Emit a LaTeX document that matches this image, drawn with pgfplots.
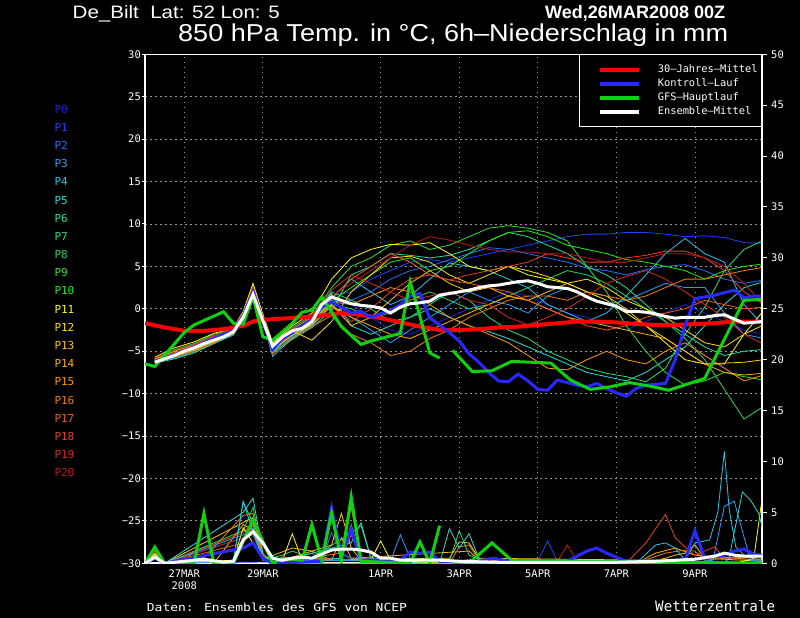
\documentclass[border=0pt]{standalone}
\usepackage{fontspec}
\setmainfont{Liberation Sans}
\newfontfamily\monof{DejaVu Sans Mono}
\usepackage{pgfplots}
\usepackage{pgfplotstable}
\pgfplotsset{compat=1.18}
\usepackage{graphicx}

\definecolor{p0}{RGB}{32,32,216}
\definecolor{p1}{RGB}{32,64,255}
\definecolor{p2}{RGB}{32,112,255}
\definecolor{p3}{RGB}{32,160,255}
\definecolor{p4}{RGB}{32,200,240}
\definecolor{p5}{RGB}{32,224,216}
\definecolor{p6}{RGB}{32,224,160}
\definecolor{p7}{RGB}{32,224,120}
\definecolor{p8}{RGB}{32,216,96}
\definecolor{p9}{RGB}{48,224,48}
\definecolor{p10}{RGB}{32,240,0}
\definecolor{p11}{RGB}{255,255,0}
\definecolor{p12}{RGB}{255,224,0}
\definecolor{p13}{RGB}{255,200,0}
\definecolor{p14}{RGB}{255,176,0}
\definecolor{p15}{RGB}{255,152,0}
\definecolor{p16}{RGB}{240,128,0}
\definecolor{p17}{RGB}{240,96,16}
\definecolor{p18}{RGB}{232,64,32}
\definecolor{p19}{RGB}{216,40,32}
\definecolor{p20}{RGB}{192,24,24}
\definecolor{ctrl}{RGB}{40,40,255}
\definecolor{gfs}{RGB}{16,208,16}
\definecolor{clim}{RGB}{255,0,0}
\definecolor{gridc}{RGB}{150,150,150}

% ensemble members, 850 hPa temperature (hours since 26MAR2008 00Z)
\pgfplotstableread{
h p0 p1 p2 p3 p4 p5 p6 p7 p8 p9 p10 p11 p12 p13 p14 p15 p16 p17 p18 p19 p20
6 -6.2 -5.8 -6.0 -6.3 -6.1 -5.9 -6.4 -6.0 -6.2 -6.1 -6.3 -5.7 -6.0 -6.2 -6.0 -5.9 -6.1 -6.0 -6.2 -5.8 -6.1
18 -5.6 -4.9 -5.3 -5.8 -5.5 -5.0 -5.9 -5.3 -5.5 -4.8 -5.4 -4.6 -5.2 -5.6 -5.3 -5.0 -5.7 -5.2 -5.4 -4.9 -5.3
30 -4.9 -4.2 -4.6 -5.1 -4.7 -4.2 -5.2 -4.5 -4.8 -4.1 -4.6 -3.9 -4.5 -4.9 -4.6 -4.3 -5.0 -4.4 -4.7 -4.2 -4.6
42 -3.8 -3.2 -3.5 -4.1 -3.8 -3.2 -4.1 -3.5 -3.8 -3.0 -3.6 -2.9 -3.5 -3.9 -3.6 -3.3 -4.0 -3.3 -3.7 -3.2 -3.6
54 -2.9 -2.6 -2.8 -3.1 -3.0 -2.5 -3.0 -2.7 -2.8 -2.4 -2.7 -2.3 -2.6 -2.9 -2.7 -2.5 -2.9 -2.6 -2.8 -2.4 -2.7
60 -1.0 -0.6 -0.9 -1.2 -1.1 -0.4 -1.3 -0.7 -1.0 -0.5 -0.8 -0.3 -0.7 -0.9 -0.8 -0.6 -1.1 -0.7 -0.9 -0.5 -0.8
66 1.8 2.2 2.0 1.5 1.6 2.6 1.4 2.4 1.9 2.8 2.1 3.0 2.3 1.7 2.0 2.5 1.3 2.2 1.8 2.6 2.0
72 -1.4 -1.0 -1.3 -1.8 -1.6 -1.2 -1.7 -0.9 -1.4 -0.8 -1.1 -0.6 -1.0 -1.5 -1.2 -1.0 -1.6 -1.1 -1.3 -0.9 -1.2
78 -4.8 -4.4 -4.7 -5.0 -5.6 -5.2 -5.1 -4.3 -4.9 -4.2 -4.5 -4.0 -4.4 -4.8 -4.6 -4.5 -5.3 -4.5 -4.7 -4.3 -4.6
90 -3.0 -2.8 -3.2 -3.3 -3.5 -2.6 -3.6 -2.4 -3.1 -2.2 -2.7 -2.0 -2.6 -3.1 -2.9 -2.7 -3.4 -2.5 -2.9 -2.3 -2.6
102 -1.5 -1.2 -1.8 -2.0 -1.7 -1.0 -2.2 -1.0 -1.4 -0.8 -1.3 -0.5 -3.7 -1.9 -1.6 -1.5 -2.1 -1.2 -1.6 -0.9 -1.1
114 1.0 1.5 0.8 0.3 1.2 1.8 -0.2 2.0 0.6 2.5 0.9 3.5 -1.5 0.5 0.4 0.8 -0.8 1.3 0.2 2.2 1.5
126 0.5 2.0 1.0 -1.0 3.5 -2.0 4.0 1.0 0.0 5.0 2.5 6.0 2.0 -2.0 -1.0 0.5 -3.0 3.5 -1.5 4.0 3.0
138 -1.0 3.5 2.0 -2.5 2.0 -3.0 5.0 0.0 -1.0 6.0 4.0 7.0 4.0 -1.0 -2.0 1.5 -4.0 5.0 0.0 3.0 4.5
150 -2.5 4.5 3.5 -4.0 0.5 -2.0 6.5 -1.5 -0.5 7.5 5.5 7.6 6.0 1.0 -3.0 2.5 -5.5 6.5 2.0 2.0 6.0
162 -3.0 5.5 4.5 -2.5 1.5 -1.0 6.3 -1.0 1.0 8.0 6.0 7.5 6.2 3.0 -3.5 2.0 -5.0 5.5 3.5 1.0 7.5
174 -2.0 5.8 5.0 -1.0 3.5 0.0 6.0 0.5 2.0 7.0 4.5 7.8 5.5 4.5 -2.5 0.5 -3.5 4.0 4.0 1.5 8.5
186 -1.0 5.5 5.8 0.5 5.4 -1.0 6.3 2.0 1.0 7.5 5.0 6.5 4.0 3.0 -1.5 -1.0 -2.5 3.4 3.4 2.0 8.1
198 0.0 6.0 6.5 2.0 5.0 -2.0 7.0 1.0 0.0 8.5 6.5 5.0 3.0 2.0 -0.5 -2.0 -1.0 3.0 4.0 1.0 7.5
210 1.0 6.5 7.2 1.0 4.5 -2.7 8.0 -1.0 0.5 9.5 8.0 4.5 4.0 2.5 0.5 -3.0 0.0 2.5 4.5 0.5 7.0
222 2.0 7.0 7.0 0.5 3.5 -3.5 9.0 -2.5 1.5 9.8 9.0 5.0 5.0 1.5 1.5 -4.0 1.0 2.0 5.0 -1.0 6.7
234 1.5 7.5 6.5 -0.5 2.5 -4.5 8.5 -3.5 2.5 9.5 9.2 4.0 4.5 1.0 1.0 -5.5 1.5 1.0 5.5 -1.9 6.7
246 0.5 8.0 6.0 1.5 0.5 -5.5 7.5 -5.0 3.5 9.0 8.5 3.5 3.8 2.0 0.0 -7.0 1.5 0.0 6.5 -1.0 6.5
258 -0.5 8.5 5.5 2.5 -0.5 -6.5 6.5 -6.0 4.5 8.0 7.5 3.0 3.0 3.0 -1.0 -7.2 1.0 -1.0 6.0 0.0 6.5
270 -1.0 8.8 4.8 1.5 -1.5 -7.5 5.0 -7.0 4.0 5.0 7.0 2.0 3.5 2.0 -1.5 -6.0 2.0 -2.0 5.5 1.5 6.0
282 -2.0 8.8 4.5 0.5 -0.5 -8.0 4.0 -7.6 3.0 2.0 6.5 1.0 2.5 1.5 -2.0 -5.0 1.5 -2.5 5.5 3.0 5.5
294 -2.5 9.0 4.0 1.0 1.5 -8.5 2.5 -8.0 1.5 -2.0 5.8 -0.5 1.0 0.0 -2.5 -6.0 1.0 -2.0 6.0 3.8 5.5
306 -1.5 9.0 4.6 2.0 4.0 -7.5 0.5 -8.6 0.0 -5.0 5.5 -2.0 0.0 -2.0 -3.0 -6.5 1.5 -1.0 6.3 4.5 6.0
318 -0.5 8.8 5.0 3.0 6.5 -6.0 -1.5 -7.0 -1.5 -7.5 5.0 -4.0 -1.0 -3.5 -3.5 -5.0 2.5 -0.5 6.8 3.5 6.5
330 0.5 8.5 5.2 2.5 8.3 -4.5 -3.0 -3.0 -3.5 -9.0 4.5 -6.0 -2.5 -5.0 -5.0 -4.0 3.5 0.0 6.8 2.0 6.5
342 -0.5 8.6 4.5 2.5 6.5 -2.0 -4.5 0.2 -6.0 -8.5 3.5 -6.5 -4.0 -6.5 -6.5 -5.5 3.5 1.0 6.0 0.5 6.0
354 -1.5 8.4 3.5 -0.5 5.5 0.5 -5.5 4.5 -9.5 -7.5 4.5 -6.5 -4.5 -6.4 -7.5 -7.0 4.0 0.5 4.5 -1.0 5.0
366 -2.5 7.8 3.0 -3.0 0.5 2.5 -5.0 7.0 -13.0 -8.0 5.0 -3.0 -3.0 -6.3 -7.8 -8.5 4.5 0.0 2.0 -3.0 3.0
378 -3.0 7.7 3.4 -3.5 -2.0 3.2 -4.8 8.1 -11.5 -8.4 5.3 -0.2 -1.9 -6.0 -7.6 -7.8 4.9 0.2 0.5 -4.2 0.5
}\members

\newcommand{\ticklabfont}{\monof\fontsize{10.5}{12}\selectfont}

\begin{document}
\begin{tikzpicture}
\path[use as bounding box] (0bp,0bp) rectangle (800bp,618bp);
\fill[black] (0bp,0bp) rectangle (800bp,618bp);

% header texts
\node[anchor=base west, inner sep=0, text=white] at (72.5bp,599bp) {\resizebox{207bp}{13bp}{De\_Bilt\ \ Lat: 52 Lon: 5}};
\node[anchor=base west, inner sep=0, text=white] at (545bp,599bp) {\resizebox{180bp}{13bp}{\bfseries Wed,26MAR2008 00Z}};
\node[anchor=base west, inner sep=0, text=white] at (178bp,576.3bp) {\resizebox{550bp}{17.7bp}{850 hPa Temp. in °C, 6h–Niederschlag in mm}};
\node[anchor=base west, inner sep=0, text=white] at (146.7bp,6.5bp) {\resizebox{260bp}{8.5bp}{\monof Daten: Ensembles des GFS von NCEP}};
\node[anchor=base west, inner sep=0, text=white] at (655bp,6.5bp) {\resizebox{120bp}{11bp}{\monof Wetterzentrale}};

% member labels
\foreach \i in {0,...,20}{
  \node[anchor=west, inner sep=0, text=p\i, font=\monof\fontsize{11}{13}\selectfont] at (54.3bp,{(618-(109.3+18.17*\i))*1bp}) {P\i};
}

% temperature axis
\begin{axis}[
  at={(145bp,54.7bp)}, anchor=south west,
  width=617bp, height=509bp, scale only axis,
  xmin=0, xmax=377, ymin=-30, ymax=30,
  axis line style={white, line width=1.6bp},
  xtick={24,72,144,192,240,288,336},
  xticklabels={{27MAR\\2008},29MAR,1APR,3APR,5APR,7APR,9APR},
  xticklabel style={align=center, text=white, font=\ticklabfont, inner sep=1bp, yshift=-2bp},
  x tick style={draw=none},
  ytick={-30,-25,...,30},
  yticklabels={−30,−25,−20,−15,−10,−5,0,5,10,15,20,25,30},
  yticklabel style={text=white, font=\ticklabfont, inner sep=1bp},
  ytick pos=left,
  y tick style={white, line width=1bp},
  tick align=outside,
  major tick length=3bp,
  grid=major,
  major grid style={draw=gridc, line width=0.8bp, dash pattern=on 1.5bp off 3.5bp},
  legend style={at={(1,1)}, anchor=north east, draw=white, line width=0.8bp,
    fill=black, text=white, font=\monof\fontsize{10.4}{12}\selectfont,
    inner xsep=2bp, inner ysep=8bp, row sep=0bp, cells={anchor=west},
    nodes={inner sep=2bp, text height=8bp, text depth=2bp},
    /tikz/every odd column/.append style={column sep=15bp}},
  legend image code/.code={\draw[black, line width=0.1bp] (0bp,0bp) -- (18bp,0bp); \draw[#1, line width=4bp] (18bp,0bp) -- (57bp,0bp);},
]
\pgfplotsinvokeforeach{0,...,20}{
  \addplot[p#1, line width=0.8bp, forget plot] table[x=h, y=p#1] {\members};
}
% 30-year mean
\addplot[clim, line width=4bp] coordinates {
(0,-1.7)(12,-2.2)(24,-2.6)(36,-2.6)(48,-2.4)(60,-2.0)(66,-1.5)(72,-1.3)(84,-1.15)(96,-1.0)
(108,-0.8)(120,-0.5)(132,-0.7)(144,-1.1)(156,-1.6)(168,-2.1)(180,-2.5)(192,-2.5)(204,-2.4)
(216,-2.2)(228,-2.1)(240,-1.9)(252,-1.7)(264,-1.5)(276,-1.5)(288,-1.6)(300,-1.8)(312,-1.9)
(324,-1.9)(336,-1.8)(348,-1.7)(360,-1.5)(377,-1.5)};
\addlegendentry{30–Jahres–Mittel}
% control run
\addplot[ctrl, line width=3bp] coordinates {
(6,-6.2)(12,-5.8)(18,-5.4)(24,-5.0)(30,-4.5)(36,-4.0)(42,-3.5)(48,-3.0)(54,-2.6)(60,-0.8)
(66,2.0)(72,-1.5)(78,-4.8)(84,-3.5)(90,-2.8)(96,-2.0)(102,-1.3)(108,0.2)(114,0.8)(120,0.2)
(126,-0.5)(132,-0.3)(138,-1.0)(144,-0.6)(150,-0.2)(156,0.5)(162,1.5)(168,1.8)(174,-1.1)
(180,-1.9)(186,-2.8)(192,-3.8)(198,-5.3)(204,-6.3)(210,-7.5)(216,-8.5)(222,-8.6)(228,-7.7)
(234,-8.5)(240,-9.5)(246,-9.6)(252,-8.4)(258,-8.7)(264,-9.0)(270,-9.2)(276,-8.8)(282,-9.4)
(288,-9.9)(294,-10.3)(300,-9.4)(306,-9.0)(312,-8.9)(318,-8.8)(324,-6.0)(330,-2.0)(336,1.2)
(342,1.4)(348,1.6)(354,1.9)(360,2.2)(366,1.3)(372,1.5)(378,1.5)};
\addlegendentry{Kontroll–Lauf}
% GFS main run
\addplot[gfs, line width=3bp, unbounded coords=jump] coordinates {
(0,-6.5)(6,-6.8)(24,-2.8)(30,-1.9)(48,-0.35)(54,-1.7)(60,-1.8)(66,1.4)(72,-3.3)(78,-3.7)
(90,-1.7)(96,-0.4)(102,-0.15)(108,1.4)(120,-2.1)(132,-4.2)(138,-3.8)(156,-2.9)(162,3.2)
(168,-0.9)(174,-5.2)(180,-5.8)(184,nan)
(188,-4.9)(200,-7.4)(212,-7.3)(224,-6.2)(236,-6.3)(248,-6.4)(260,-8.4)(272,-9.5)(284,-9.2)
(296,-8.7)(308,-9.1)(320,-9.6)(342,-8.2)(366,1.0)(377,1.1)};
\addlegendentry{GFS–Hauptlauf}
% ensemble mean
\addplot[white, line width=3bp] coordinates {
(6,-6.3)(12,-5.9)(18,-5.5)(24,-5.0)(30,-4.6)(36,-4.1)(42,-3.7)(48,-3.3)(54,-2.7)(60,-1.0)
(66,1.7)(72,-1.4)(78,-4.4)(84,-3.3)(90,-2.6)(96,-2.3)(102,-1.5)(108,0.5)(114,1.4)(120,1.0)
(126,0.6)(132,0.4)(138,0.3)(144,0.1)(150,-0.5)(156,0.2)(162,0.6)(168,0.7)(174,0.9)(180,1.6)
(186,1.8)(192,2.0)(198,2.2)(204,2.5)(210,2.7)(216,2.8)(222,3.0)(228,3.2)(234,3.3)(240,3.0)
(246,2.6)(252,2.5)(258,2.4)(264,2.0)(270,1.4)(276,0.9)(282,0.6)(288,0.3)(294,-0.3)(300,-0.3)
(306,-0.4)(312,-0.6)(318,-0.9)(324,-1.1)(330,-1.0)(336,-1.0)(342,-1.0)(348,-0.8)(354,-0.7)
(360,-1.2)(366,-1.7)(372,-1.6)(377,-1.5)};
\addlegendentry{Ensemble–Mittel}
\end{axis}

% precipitation axis
\begin{axis}[
  at={(145bp,54.7bp)}, anchor=south west,
  width=617bp, height=509bp, scale only axis,
  xmin=0, xmax=377, ymin=0, ymax=50,
  axis x line=none, axis y line*=right,
  axis line style={white, line width=1.6bp},
  ytick={0,5,...,50},
  yticklabels={0,5,10,15,20,25,30,35,40,45,50},
  yticklabel style={text=white, font=\ticklabfont, inner sep=1bp, xshift=3bp},
  y tick style={white, line width=1bp},
  tick align=outside,
  major tick length=5bp,
]
\addplot[p1, line width=0.8bp] coordinates {(0,0)(6,0.4)(12,0)(108,0.2)(114,4.5)(120,1.0)(126,0.3)(240,0.2)(246,2.2)(252,0.2)(377,0.2)};
\addplot[p2, line width=0.8bp] coordinates {(0,0)(6,0.5)(12,0)(60,2.5)(66,3.5)(72,0.5)(78,0)(108,0.3)(114,3.0)(120,1.0)(126,0.5)(180,0.2)(377,0.1)};
\addplot[p9, line width=0.8bp] coordinates {(0,0)(6,0.7)(12,0)(60,3.2)(66,5.5)(72,0.8)(78,0)(102,1.0)(108,0.3)(168,0.5)(186,0)(377,0)};
\addplot[p14, line width=0.8bp] coordinates {(0,0)(6,0.8)(12,0)(30,0.6)(42,0)(60,3.8)(66,3.3)(72,0.4)(90,1.5)(102,1.2)(114,0.3)(120,2.5)(126,0.5)(198,1.2)(204,0.3)(300,0)(312,1.0)(324,1.5)(336,0.8)(377,0.3)};
\addplot[p17, line width=0.8bp] coordinates {(0,0)(6,0.9)(12,0)(60,2.0)(66,3.8)(72,0.4)(120,0.5)(126,2.8)(132,0.3)(377,0.1)};
\addplot[p20, line width=0.8bp] coordinates {(0,0)(6,0.5)(12,0)(60,2.5)(66,2.8)(72,0.3)(252,0.2)(258,1.8)(264,0.2)(377,0.1)};
\addplot[p13, line width=0.8bp] coordinates {(0,0)(6,1.0)(12,0)(60,4.0)(66,4.5)(72,0.6)(78,0)(114,1.8)(120,4.9)(126,1.5)(132,0.3)(186,0.5)(192,2.1)(198,2.0)(204,0.5)(312,0.3)(318,0.5)(324,0.8)(330,1.0)(336,1.8)(342,0.5)(377,0.2)};
\addplot[p16, line width=0.8bp] coordinates {(0,0)(6,1.2)(12,0)(24,0.3)(30,1.1)(36,0.5)(60,4.7)(66,4.9)(72,0.8)(78,0)(120,1.0)(126,5.5)(132,0.5)(150,0.3)(186,0)(192,1.6)(198,1.8)(204,0.3)(216,0)(300,0)(318,1.0)(330,1.3)(336,1.2)(342,0.3)(354,0.5)(366,0.6)(377,0.5)};
\addplot[p18, line width=0.8bp] coordinates {(0,0)(6,0.6)(12,0)(60,3.0)(66,4.0)(72,0.5)(78,0)(294,0)(306,2.0)(318,4.8)(324,2.5)(330,1.6)(336,0.8)(348,1.6)(354,0.5)(377,0.3)};
\addplot[p7, line width=0.8bp] coordinates {(0,0)(6,0.6)(12,0)(54,0.3)(60,6.0)(66,4.0)(72,0.3)(84,0.8)(90,1.2)(102,0.5)(126,3.0)(132,3.7)(138,0.5)(174,0)(180,0.5)(186,0.2)(192,3.2)(198,0.8)(210,0)(377,0)};
\addplot[p11, line width=0.8bp] coordinates {(0,0)(6,0.9)(12,0)(54,0.3)(60,3.5)(66,2.0)(72,0.5)(84,0.3)(90,2.9)(96,0.3)(138,0.3)(144,2.2)(150,0.3)(180,0)(360,0)(366,0.2)(372,0.5)(377,6.3)};
\addplot[p5, line width=0.8bp] coordinates {(0,0)(6,0.7)(12,0)(60,5.0)(66,6.4)(72,1.0)(78,0)(126,2.0)(132,4.0)(138,0.5)(150,0)(180,0)(186,3.4)(192,1.5)(198,2.9)(204,0.5)(210,0)(354,0)(357,0.6)(365,7.0)(370,6.2)(375,4.9)(377,3.6)};
\addplot[p3, line width=0.8bp] coordinates {(0,0)(6,0.6)(12,0)(60,2.8)(66,3.2)(72,0.4)(150,0.2)(156,2.8)(162,0.5)(180,0.2)(341,0.2)(347,0.3)(351,3.3)(354,5.6)(360,6.1)(367,2.0)(370,0.3)(377,0.2)};
\addplot[p4, line width=0.8bp] coordinates {(0,0)(6,0.8)(12,0)(54,0.2)(60,6.1)(66,3.0)(72,0.5)(78,0)(120,0.5)(126,3.8)(132,0.5)(144,0)(300,0)(312,1.8)(318,2.0)(324,1.5)(330,0.3)(336,2.0)(345,2.3)(350,5.0)(354,11.0)(357,5.2)(361,1.6)(366,0.8)(372,0.5)(377,0.3)};
\addplot[ctrl, line width=3bp] coordinates {(0,0)(6,0.5)(12,0)(60,1.5)(66,2.0)(72,0.5)(78,0)(108,0.2)(114,5.4)(120,0.8)(126,3.3)(132,0.3)(156,0.3)(162,1.1)(168,1.0)(174,1.1)(180,0.2)(204,0.2)(213,0.5)(222,0.2)(258,0.2)(270,1.2)(276,1.5)(282,1.0)(294,0.2)(330,0.3)(336,3.2)(342,0.5)(354,0.8)(360,1.2)(366,1.4)(372,0.9)(377,0.8)};
\addplot[gfs, line width=3bp, unbounded coords=jump] coordinates {(0,0)(6,1.6)(12,0)(30,0)(36,4.9)(42,0)(54,0)(66,4.3)(78,0)(84,0.5)(96,0.3)(102,3.8)(108,0.3)(114,4.9)(120,0.3)(126,6.5)(132,0.2)(162,0)(168,2.1)(174,0)(180,3.7)(184,nan)(188,0)(200,0.3)(212,2.0)(224,0.3)(260,0.2)(377,0)};
\addplot[white, line width=3bp] coordinates {(0,0)(6,0.6)(12,0)(24,0.2)(36,0.4)(48,0.1)(54,0.2)(60,2.3)(66,3.1)(72,2.0)(78,0.5)(84,0.3)(90,0.5)(96,0.6)(102,0.5)(108,0.9)(114,1.3)(120,1.4)(126,1.4)(132,1.3)(138,1.1)(144,0.5)(150,0.5)(156,0.3)(168,0.3)(180,0.3)(192,0.2)(216,0.1)(240,0.1)(288,0.1)(312,0.2)(336,0.4)(348,0.7)(354,1.0)(360,0.8)(366,0.7)(377,0.7)};
\end{axis}
\end{tikzpicture}
\end{document}
